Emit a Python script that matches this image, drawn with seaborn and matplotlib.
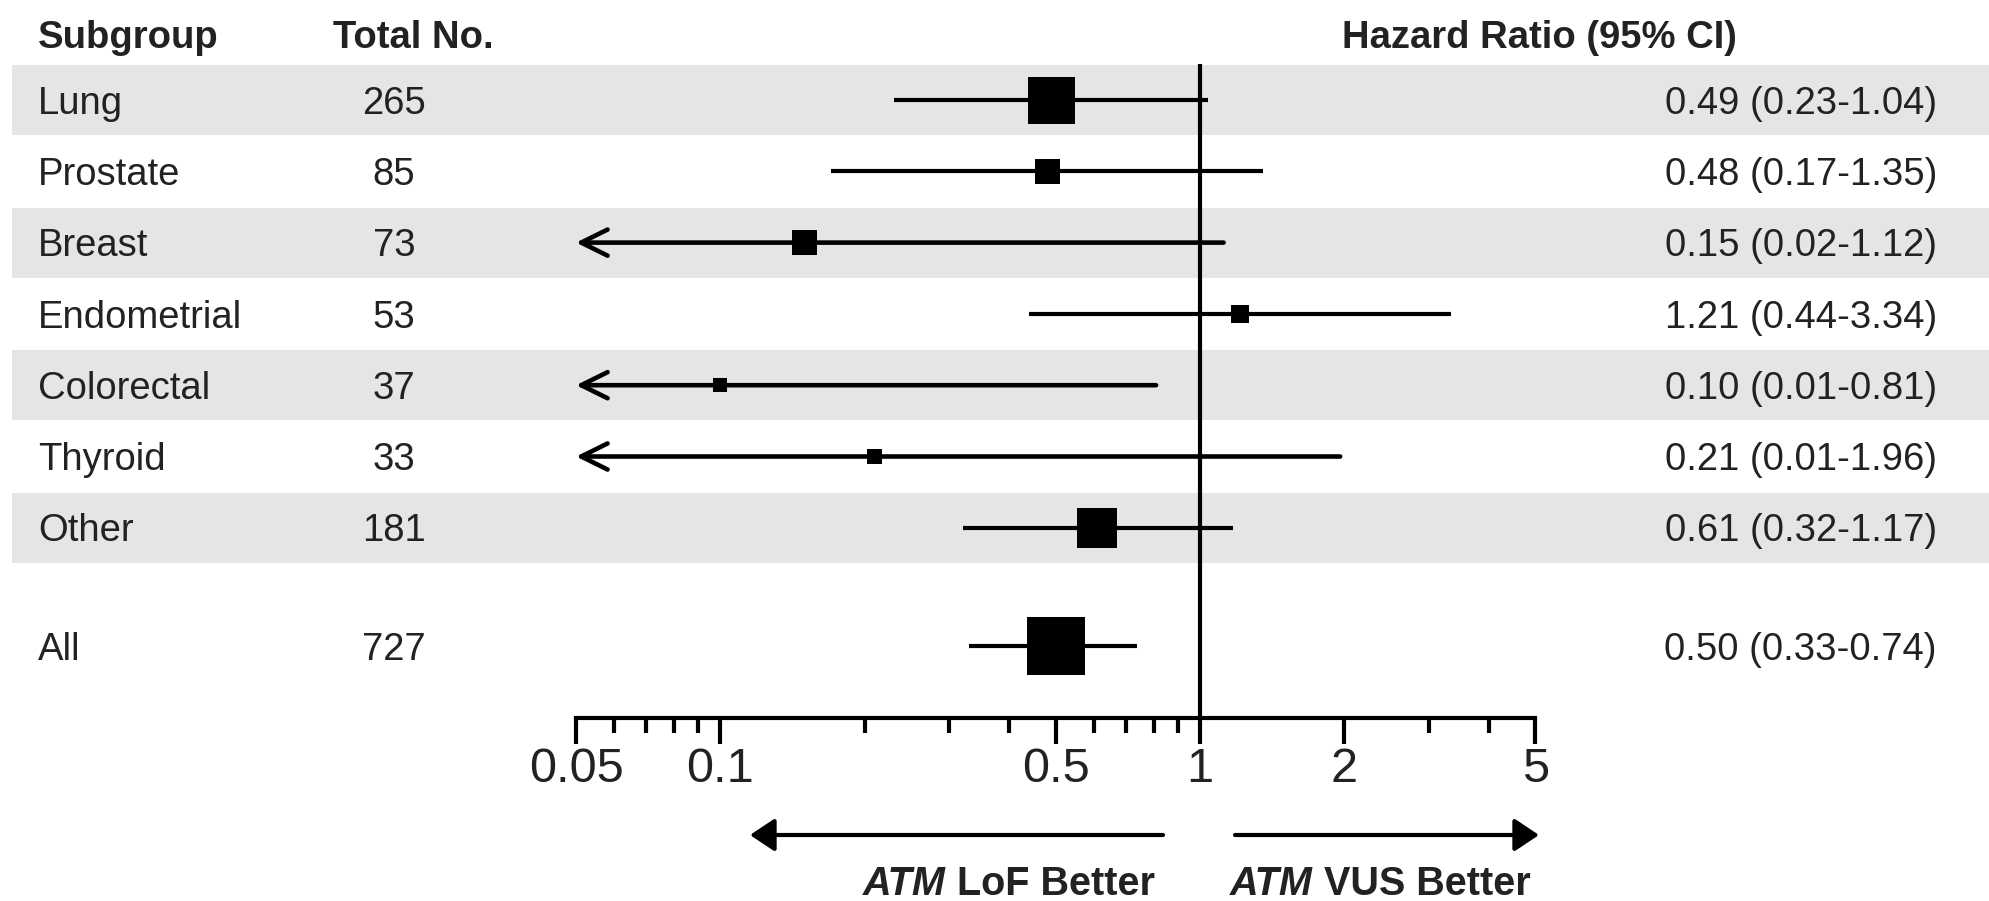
import numpy as np
import pandas as pd
import matplotlib
matplotlib.use("Agg")
import matplotlib.pyplot as plt
import seaborn as sns
from matplotlib.patches import FancyArrowPatch
from matplotlib.transforms import blended_transform_factory, IdentityTransform
from matplotlib.ticker import NullFormatter

# ---------------- data ----------------
subgroups = ["Lung", "Prostate", "Breast", "Endometrial", "Colorectal", "Thyroid", "Other", "All"]
total_no = [265, 85, 73, 53, 37, 33, 181, 727]
hr = [0.49, 0.48, 0.15, 1.21, 0.10, 0.21, 0.61, 0.50]
ci_low = [0.23, 0.17, 0.02, 0.44, 0.01, 0.01, 0.32, 0.33]
ci_high = [1.04, 1.35, 1.12, 3.34, 0.81, 1.96, 1.17, 0.74]
hr_text = ["0.49 (0.23-1.04)", "0.48 (0.17-1.35)", "0.15 (0.02-1.12)", "1.21 (0.44-3.34)",
           "0.10 (0.01-0.81)", "0.21 (0.01-1.96)", "0.61 (0.32-1.17)", "0.50 (0.33-0.74)"]
headers = ["Subgroup", "Total No.", "Hazard Ratio (95% CI)"]
xticks_major = [0.05, 0.1, 0.5, 1, 2, 5]
xtick_labels = ["0.05", "0.1", "0.5", "1", "2", "5"]
xticks_minor = [0.06, 0.07, 0.08, 0.09, 0.2, 0.3, 0.4, 0.6, 0.7, 0.8, 0.9, 3, 4]
left_label = ("ATM", "LoF Better")
right_label = ("ATM", "VUS Better")

# ---------------- style / layout ----------------
W, H, DPI = 1990, 901, 100
box_px = [47, 25, 25, 18, 14, 15, 40, 58]      # marker side in pixels
LW = 3.0
FS = 27.5
TICK_FS = 35
TC = "#222222"
BAND = "#e5e5e5"
PX_DEC = 479.6      # pixels per decade
X1_PX = 1200        # pixel position of HR = 1
ROW0_PX = 100       # pixel y of first row
ROW_H = 71.3        # row height in pixels
AXIS_PX = 718
XMIN_AXIS = 0.05

sns.set_style("white")
plt.rcParams["font.family"] = ["Liberation Sans", "DejaVu Sans"]


def px2x(p):
    return 10 ** ((p - X1_PX) / PX_DEC)


def px2y(p):
    return (p - ROW0_PX) / ROW_H


ypos = [0, 1, 2, 3, 4, 5, 6, 7.66]
axis_y = px2y(AXIS_PX)

fig = plt.figure(figsize=(W / DPI, H / DPI), dpi=DPI)
ax = fig.add_axes([0, 0, 1, 1])
ax.set_xscale("log")

# shaded bands
for i in range(0, 7, 2):
    ax.axhspan(ypos[i] - 0.49, ypos[i] + 0.49, xmin=12 / W, xmax=1, color=BAND, lw=0, zorder=0)

# reference line at HR = 1
ax.plot([1, 1], [px2y(64), axis_y], color="k", lw=LW, solid_capstyle="butt", zorder=2)

# confidence intervals
for lo, hi, y in zip(ci_low, ci_high, ypos):
    if lo < XMIN_AXIS:
        arr = FancyArrowPatch((hi, y), (XMIN_AXIS, y),
                              arrowstyle="->,head_length=0.95,head_width=0.47",
                              mutation_scale=20, lw=LW + 0.3, color="k",
                              shrinkA=0, shrinkB=0, zorder=2)
        ax.add_patch(arr)
    else:
        ax.plot([lo, hi], [y, y], color="k", lw=LW, solid_capstyle="butt", zorder=2)

# boxes
areas = [(p * 72 / DPI) ** 2 for p in box_px]
df = pd.DataFrame({"hr": hr, "y": ypos, "area": areas})
sns.scatterplot(data=df, x="hr", y="y", size="area", sizes={a: a for a in areas},
                marker="s", color="k", linewidth=0, legend=False, ax=ax, zorder=3)

ax.set_xlim(px2x(0), px2x(W))
ax.set_ylim(px2y(H), px2y(0))
ax.set_xlabel("")
ax.set_ylabel("")
ax.set_yticks([])

for s in ["left", "top", "right"]:
    ax.spines[s].set_visible(False)
ax.spines["bottom"].set_position(("data", axis_y))
ax.spines["bottom"].set_bounds(XMIN_AXIS, 5)
ax.spines["bottom"].set_linewidth(LW)
ax.spines["bottom"].set_color("k")

ax.set_xticks(xticks_major)
ax.set_xticklabels(xtick_labels)
ax.set_xticks(xticks_minor, minor=True)
ax.xaxis.set_minor_formatter(NullFormatter())
ax.tick_params(axis="x", which="major", bottom=True, length=18.7, width=LW, direction="out",
               pad=2, labelsize=TICK_FS, labelcolor=TC, color="k")
ax.tick_params(axis="x", which="minor", bottom=True, length=11, width=LW, direction="out", color="k")

trans = blended_transform_factory(ax.transAxes, ax.transData)


def txt(xpx, y, s, ha, weight="normal", size=FS):
    ax.annotate(s, xy=(xpx / W, y), xycoords=trans, xytext=(0, -0.358 * size),
                textcoords="offset points", ha=ha, va="baseline", fontsize=size,
                fontweight=weight, color=TC)


hy = px2y(34)
txt(38, hy, headers[0], "left", "bold")
txt(333, hy, headers[1], "left", "bold")
txt(1342, hy, headers[2], "left", "bold")

for name, n, t, y in zip(subgroups, total_no, hr_text, ypos):
    txt(38, y, name, "left")
    txt(394, y, str(n), "center")
    txt(1937, y, t, "right")

# direction arrows
BFS = 28.5
arrow_y = H - 835
for a, b in [((1163, arrow_y), (750, arrow_y)), ((1235, arrow_y), (1539, arrow_y))]:
    fa = FancyArrowPatch(a, b, arrowstyle="-|>,head_length=0.75,head_width=0.5",
                         mutation_scale=20, lw=LW, color="k", shrinkA=0, shrinkB=0,
                         transform=IdentityTransform())
    fig.add_artist(fa)

base_y = H - 895
t1 = ax.annotate(left_label[1], xy=(1155, base_y), xycoords="figure pixels",
                 ha="right", va="baseline", fontsize=BFS, fontweight="bold", color=TC)
ax.annotate(left_label[0], xy=(0, 0), xycoords=t1, xytext=(-8, 0), textcoords="offset points",
            ha="right", va="bottom", fontsize=BFS, fontweight="bold", fontstyle="italic", color=TC)
t2 = ax.annotate(right_label[0], xy=(1230, base_y), xycoords="figure pixels",
                 ha="left", va="baseline", fontsize=BFS, fontweight="bold", fontstyle="italic", color=TC)
ax.annotate(right_label[1], xy=(1, 0), xycoords=t2, xytext=(8, 0), textcoords="offset points",
            ha="left", va="bottom", fontsize=BFS, fontweight="bold", color=TC)

fig.savefig("out.png", dpi=DPI)
